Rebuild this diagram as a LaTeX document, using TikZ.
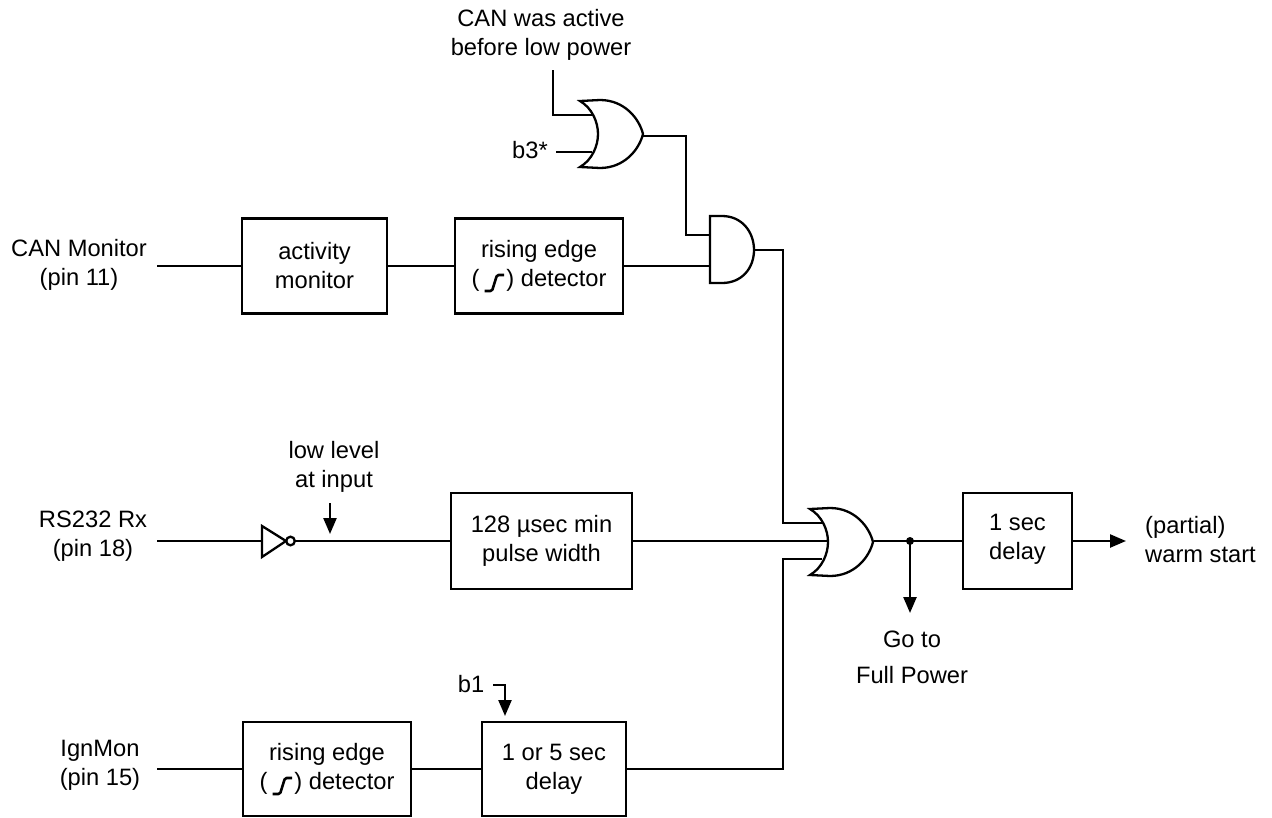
\documentclass[tikz,border=0pt]{standalone}
\usepackage{fontspec}
\setmainfont{Liberation Sans}
\usetikzlibrary{arrows.meta,calc}
\tikzset{
  wire/.style={line width=2.4pt,line cap=butt,line join=miter},
  arrowwire/.style={wire,-{Triangle[length=16pt,width=13pt]}},
  blockbox/.style={draw,line width=2.4pt,anchor=center,inner sep=0pt,align=center,font=\fontsize{23.7}{29}\selectfont},
  lbl/.style={inner sep=0pt,align=center,font=\fontsize{23.7}{29}\selectfont},
  baselbl/.style={inner sep=0pt,anchor=base,font=\fontsize{23.7}{29}\selectfont},
  gate/.style={line width=2.3pt,line join=miter,fill=white},
  stepline/.style={line width=2.6pt,line join=round},
}
% two lines of text with a fixed extent, so that baselines do not depend on the letters
\newcommand{\twolines}[3][2]{\rule{0pt}{17pt}#2\\#3\rule[-#1pt]{0pt}{#1pt}}
% or-gate outline, origin at the middle of the back
\newcommand{\orgate}[2]{%
  \draw[gate,shift={(#1,#2)}] (0,-33) -- (20,-34) .. controls (44,-34) and (59,-16) .. (63,0)
     .. controls (59,16) and (44,34) .. (20,34) -- (0,33)
     .. controls (12,26) and (18,12) .. (18,0) .. controls (18,-12) and (12,-26) .. (0,-33) -- cycle;}
\newcommand{\stepsym}[1]{%
  \draw[stepline,rounded corners=1.5pt] ($(#1)+(-54.5,25)$) -- ++(7.5,0) -- ++(5,-16) -- ++(7,0);}
\begin{document}
\begin{tikzpicture}[x=1pt,y=-1pt]
\useasboundingbox (0,0) rectangle (1272,817);
% blocks
\node[blockbox,minimum width=145pt,minimum height=95pt] (act) at (314.5,266) {\twolines{activity}{monitor}};
\node[blockbox,minimum width=168pt,minimum height=95pt] (edgeA) at (539,266) {\twolines{rising edge}{(\hspace{27pt}) detector}};
\node[blockbox,minimum width=181pt,minimum height=96pt] (pulse) at (541.5,541) {\twolines[4]{128 µsec min}{pulse width}};
\node[blockbox,minimum width=109pt,minimum height=96pt] (sec) at (1017.5,541) {\twolines[10]{1 sec}{delay}};
\node[blockbox,minimum width=168pt,minimum height=94pt] (edgeB) at (327,769) {\twolines{rising edge}{(\hspace{27pt}) detector}};
\node[blockbox,minimum width=144pt,minimum height=94pt] (dly) at (554,769) {\twolines{1 or 5 sec}{delay}};
\stepsym{edgeA.center}
\stepsym{edgeB.center}
% labels
\node[lbl] (canact) at (541,35) {\twolines{CAN was active}{before low power}};
\node[baselbl] (b3) at (530,158) {b3*};
\node[lbl] (canmon) at (79,265) {\twolines{CAN Monitor}{(pin 11)}};
\node[lbl] (rs) at (93,536) {\twolines{RS232 Rx}{(pin 18)}};
\node[lbl] (ign) at (100,765) {\twolines{IgnMon}{(pin 15)}};
\node[lbl] (low) at (334,467) {\twolines{low level}{at input}};
\node[baselbl] (goto) at (912,647) {Go to};
\node[baselbl] (full) at (912,683) {Full Power};
\node[lbl,align=left,anchor=west] (warm) at (1145,540) {\twolines{(partial)}{warm start}};
\node[baselbl] (b1) at (471,692) {b1};
% gate pins
\coordinate (o1a) at (592,115); \coordinate (o1b) at (592,152); \coordinate (o1y) at (642,136);
\coordinate (a1a) at (710,235); \coordinate (a1b) at (710,266); \coordinate (a1y) at (754,250);
\coordinate (o2a) at (822,523); \coordinate (o2b) at (828,541); \coordinate (o2c) at (822,559); \coordinate (o2y) at (874,541);
\coordinate (invin) at (262,541); \coordinate (invout) at (295,541);
\coordinate (dot) at (910,541);
% free ends
\coordinate (canin) at (553,70); \coordinate (b3in) at (556,152);
\coordinate (canL) at (157,266); \coordinate (rsL) at (157,541); \coordinate (ignL) at (157,769);
\coordinate (lowT) at (330,503); \coordinate (lowB) at (330,534);
\coordinate (goEnd) at (910,613); \coordinate (warmEnd) at (1126,541);
\coordinate (b1S) at (493,685); \coordinate (b1E) at (505,716);
% connectors
\draw[wire] (canin) |- (o1a);
\draw[wire] (b3in) -- (o1b);
\draw[wire] (o1y) -| (686,235) -- (a1a);
\draw[wire] (canL) -- (act.west);
\draw[wire] (act.east) -- (edgeA.west);
\draw[wire] (edgeA.east) -- (a1b);
\draw[wire] (a1y) -| (783,523) -- (o2a);
\draw[wire] (rsL) -- (invin);
\draw[wire] (invout) -- (pulse.west);
\draw[wire] (ignL) -- (edgeB.west);
\draw[wire] (edgeB.east) -- (dly.west);
\draw[wire] (dly.east) -| (783,559) -- (o2c);
\draw[wire] (o2y) -- (sec.west);
\draw[arrowwire] (sec.east) -- (warmEnd);
\draw[arrowwire] (dot) -- (goEnd);
\draw[arrowwire] (lowT) -- (lowB);
\draw[arrowwire] (b1S) -| (b1E);
\fill (dot) circle (4pt);
% gates
\orgate{580}{134}
\orgate{810}{542}
\draw[gate] (710,216) -- (722,216) .. controls (742,216) and (754,232) .. (754,250)
   .. controls (754,268) and (742,283) .. (722,283) -- (710,283) -- cycle;
\draw[gate] (262,526) -- (286,541) -- (262,557) -- cycle;
\draw[gate] (290.5,541) circle (4.3pt);
\draw[wire] (pulse.east) -- (o2b);
\end{tikzpicture}
\end{document}
